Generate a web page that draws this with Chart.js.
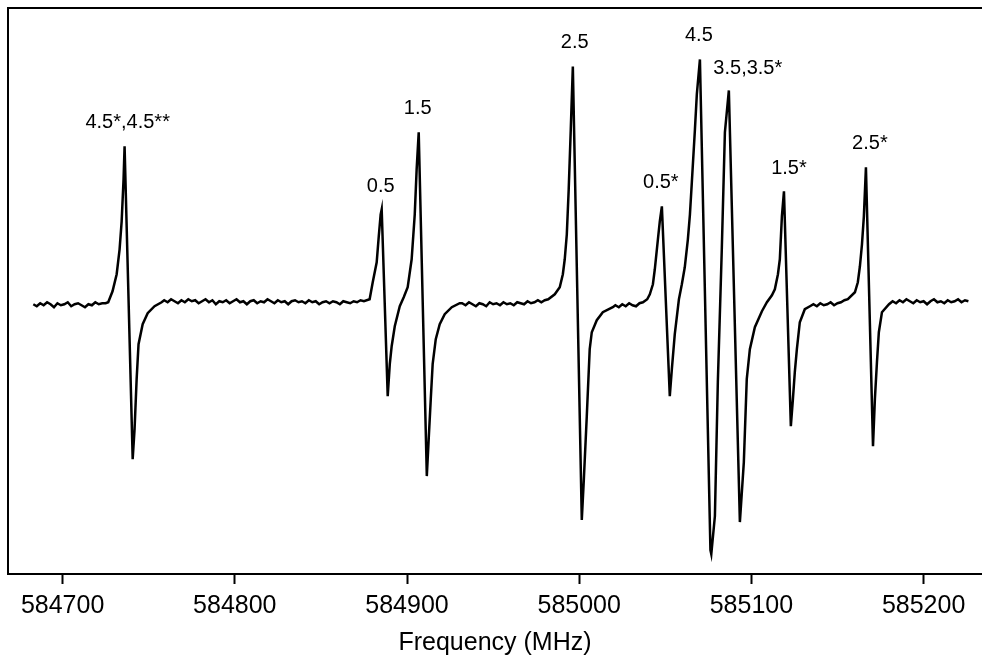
<!DOCTYPE html>
<html>
<head>
<meta charset="utf-8">
<title>Frequency spectrum</title>
<script src="https://cdn.jsdelivr.net/npm/chart.js@4.4.1/dist/chart.umd.min.js"></script>
<style>
  html, body { margin: 0; padding: 0; background: #fff; }
  #wrap { width: 982px; height: 656px; }
</style>
</head>
<body>
<div id="wrap"><canvas id="chart"></canvas></div>
<script>
/* ================= DATA ================= */
// [frequency in MHz, signal in arbitrary units]
const baseLeft = [
  [584683,-0.02],[584685,-0.04],[584687,-0.01],[584689,-0.03],[584691,0.00],[584693,-0.02],
  [584695,-0.05],[584697,-0.01],[584699,-0.03],[584701,-0.02],[584703,0.00],[584705,-0.04],
  [584707,-0.02],[584709,-0.01],[584711,-0.03],[584713,-0.05],[584715,-0.02],[584717,-0.03],
  [584719,0.00],[584721,-0.02],[584723,-0.01],[584725,-0.01]
];

const line45s = [
  [584726.5,0.00],[584729.0,0.11],[584731.4,0.28],[584733.1,0.53],[584734.3,0.81],[584735.4,1.23],
  [584736.0,1.56],[584740.7,-1.57],[584741.8,-1.27],[584743.0,-0.77],[584744.1,-0.42],[584746.5,-0.22],
  [584749.4,-0.11],[584753.4,-0.04],[584757.5,0.00]
];

const baseMid1 = [
  [584759,0.02],[584761,0.00],[584763,0.03],[584765,0.01],[584767,-0.01],[584769,0.02],[584771,0.00],
  [584773,0.03],[584775,0.01],[584777,0.02],[584779,-0.01],[584781,0.01],[584783,0.03],[584785,0.00],
  [584787,0.02],[584789,-0.02],[584791,0.01],[584793,0.00],[584795,0.02],[584797,-0.01],[584799,0.01],
  [584801,0.03],[584803,0.00],[584805,0.01],[584807,-0.02],[584809,0.01],[584811,0.02],[584813,-0.01],
  [584815,0.01],[584817,0.00],[584819,0.03],[584821,0.01],[584823,-0.01],[584825,0.02],[584827,0.00],
  [584829,0.01],[584831,-0.02],[584833,0.01],[584835,0.02],[584837,0.00],[584839,0.01],[584841,-0.01],
  [584843,0.02],[584845,0.00],[584847,0.01],[584849,-0.02],[584851,0.00],[584853,0.01],[584855,-0.01],
  [584857,0.01],[584859,0.00],[584861,-0.02],[584863,0.01],[584865,0.00],[584867,-0.01],[584869,0.01],
  [584871,0.00],[584873,0.02],[584875,0.01]
];

const line05_15 = [
  [584878.3,0.03],[584880.1,0.20],[584882.4,0.40],[584883.6,0.66],[584884.7,0.88],[584885.3,0.93],
  [584888.8,-0.94],[584890.0,-0.62],[584891.1,-0.44],[584892.9,-0.24],[584895.8,-0.04],[584898.1,0.05],
  [584900.4,0.15],[584902.7,0.43],[584904.5,0.88],[584905.6,1.33],[584906.8,1.70],[584911.5,-1.74],
  [584912.6,-1.37],[584913.8,-0.97],[584914.9,-0.62],[584916.7,-0.37],[584919.0,-0.22],[584921.9,-0.12],
  [584926.0,-0.05],[584930.6,-0.01]
];

const baseMid2 = [
  [584932,-0.01],[584934,-0.03],[584936,0.00],[584938,-0.02],[584940,-0.04],[584942,-0.01],[584944,-0.02],
  [584946,-0.04],[584948,0.00],[584950,-0.02],[584952,-0.01],[584954,-0.03],[584956,0.00],[584958,-0.02],
  [584960,-0.01],[584962,-0.03],[584964,0.00],[584966,-0.01],[584968,-0.02],[584970,0.01],[584972,-0.01],
  [584974,0.00],[584976,0.02],[584978,0.00],[584980,0.02],[584982,0.03]
];

const line25 = [
  [584985.8,0.08],[584988.7,0.15],[584990.5,0.28],[584991.6,0.43],[584992.8,0.68],[584993.9,1.13],
  [584995.1,1.73],[584996.3,2.36],[585001.5,-2.18],[585002.7,-1.77],[585004.4,-1.14],[585006.1,-0.47],
  [585007.3,-0.30],[585010.2,-0.18],[585013.7,-0.10],[585019.5,-0.05]
];

const baseMid3 = [
  [585021,-0.03],[585023,-0.05],[585025,-0.02],[585027,-0.04],[585029,-0.01],[585031,-0.03],
  [585033,-0.04],[585035,-0.01],[585037,0.00]
];

const lineCluster = [
  [585039.5,0.03],[585041.0,0.08],[585042.8,0.18],[585043.9,0.33],[585045.7,0.63],[585046.8,0.81],
  [585048.0,0.96],[585052.6,-0.94],[585053.8,-0.67],[585055.5,-0.32],[585057.9,0.03],[585059.6,0.18],
  [585061.3,0.35],[585063.1,0.63],[585064.3,0.88],[585065.4,1.20],[585067.2,1.73],[585068.3,2.08],
  [585070.1,2.43],[585076.2,-2.48],[585076.7,-2.52],[585078.8,-2.14],[585080.5,-0.80],[585082.8,0.53],
  [585084.6,1.70],[585086.9,2.12],[585093.3,-2.20],[585095.6,-1.60],[585097.3,-0.77],[585099.1,-0.47],
  [585102.0,-0.25],[585106.1,-0.09],[585109.0,0.00],[585111.9,0.07],[585113.6,0.13],[585115.4,0.28],
  [585116.5,0.43],[585117.7,0.86],[585118.9,1.11],[585122.9,-1.24],[585124.1,-0.97],[585125.2,-0.70],
  [585126.4,-0.47],[585128.1,-0.20],[585131.0,-0.07],[585134.0,-0.04]
];

const baseMid4 = [
  [585136,-0.02],[585138,-0.04],[585140,-0.01],[585142,-0.03],[585144,-0.02],[585146,0.00],
  [585148,-0.03],[585150,-0.01],[585152,0.00],[585154,0.02],[585156,0.03]
];

const line25s = [
  [585160.1,0.10],[585161.8,0.20],[585163.0,0.36],[585164.2,0.58],[585165.3,0.86],[585166.5,1.35],
  [585170.6,-1.44],[585171.7,-0.97],[585172.9,-0.60],[585174.0,-0.30],[585175.8,-0.10],[585179.9,-0.02]
];

const baseRight = [
  [585182,0.01],[585184,-0.01],[585186,0.02],[585188,0.00],[585190,0.03],[585192,0.01],[585194,-0.01],
  [585196,0.02],[585198,0.00],[585200,0.01],[585202,-0.02],[585204,0.01],[585206,0.03],[585208,0.00],
  [585210,0.01],[585212,-0.01],[585214,0.02],[585216,0.00],[585218,0.01],[585220,0.03],[585222,0.00],
  [585224,0.02],[585226,0.01]
];

// peak assignments and where their text sits (MHz, signal units)
const peakNames  = ["4.5*,4.5**", "0.5", "1.5", "2.5", "0.5*", "4.5", "3.5,3.5*", "1.5*", "2.5*"];
const labelFreq  = [584737.8, 584884.7, 584906.2, 584997.4, 585047.4, 585069.5, 585097.9, 585121.8, 585168.8];
const labelLevel = [1.80, 1.16, 1.94, 2.60, 1.20, 2.67, 2.34, 1.34, 1.59];

const tickValues = [584700, 584800, 584900, 585000, 585100, 585200];

/* ================= HELPERS ================= */
const FONT = '"Liberation Sans", Arial, Helvetica, sans-serif';

const trace = [].concat(baseLeft, line45s, baseMid1, line05_15, baseMid2, line25,
  baseMid3, lineCluster, baseMid4, line25s, baseRight)
  .map(p => ({ x: p[0], y: p[1] }));

/* ================= PLUGINS ================= */
const topFrame = {
  id: "topFrame",
  afterDraw(chart) {
    const { ctx, chartArea } = chart;
    ctx.save();
    ctx.strokeStyle = "#000";
    ctx.lineWidth = 2;
    ctx.beginPath();
    ctx.moveTo(chartArea.left - 1, chartArea.top);
    ctx.lineTo(chart.width, chartArea.top);
    ctx.stroke();
    ctx.restore();
  }
};

const peakText = {
  id: "peakText",
  afterDatasetsDraw(chart) {
    const { ctx, scales: { x, y } } = chart;
    ctx.save();
    ctx.font = "20px " + FONT;
    ctx.fillStyle = "#000";
    ctx.textAlign = "center";
    ctx.textBaseline = "middle";
    peakNames.forEach((t, i) => {
      ctx.fillText(t, x.getPixelForValue(labelFreq[i]), y.getPixelForValue(labelLevel[i]));
    });
    ctx.restore();
  }
};

/* ================= CHART ================= */
new Chart(document.getElementById("chart"), {
  type: "line",
  data: {
    datasets: [{
      data: trace,
      borderColor: "#000",
      borderWidth: 2.5,
      pointRadius: 0,
      tension: 0,
      fill: false
    }]
  },
  options: {
    responsive: true,
    maintainAspectRatio: false,
    animation: false,
    layout: { padding: { left: 8, top: 8, right: 0, bottom: 0 } },
    plugins: {
      legend: { display: false },
      tooltip: { enabled: false }
    },
    scales: {
      x: {
        type: "linear",
        min: 584668.3,
        max: 585233.9,
        afterBuildTicks: s => { s.ticks = tickValues.map(v => ({ value: v })); },
        ticks: {
          color: "#000",
          font: { family: FONT, size: 25 },
          padding: 7,
          maxRotation: 0,
          autoSkip: false,
          callback: v => String(v)
        },
        grid: {
          display: true,
          drawOnChartArea: false,
          drawTicks: true,
          tickLength: 10,
          tickWidth: 2,
          tickColor: "#000"
        },
        border: { display: true, color: "#000", width: 2 },
        title: {
          display: true,
          text: "Frequency (MHz)",
          color: "#000",
          font: { family: FONT, size: 25, lineHeight: 1 },
          padding: { top: 3, bottom: 0 }
        }
      },
      y: {
        min: -2.72,
        max: 2.945,
        ticks: { display: false },
        grid: { display: false, drawTicks: false },
        border: { display: true, color: "#000", width: 2 }
      }
    }
  },
  plugins: [topFrame, peakText]
});
</script>
</body>
</html>
